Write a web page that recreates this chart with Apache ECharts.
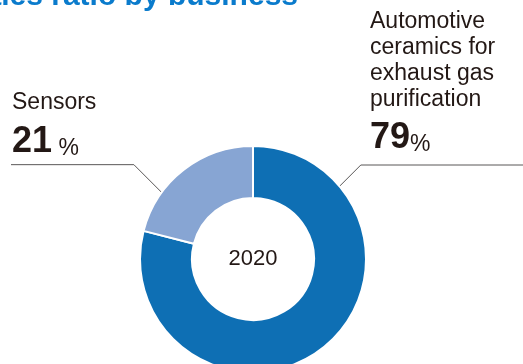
<!DOCTYPE html>
<html>
<head>
<meta charset="utf-8">
<script src="https://cdn.jsdelivr.net/npm/echarts@6/dist/echarts.min.js"></script>
<style>
html,body{margin:0;padding:0;background:#fff;}
#chart{width:523px;height:364px;}
</style>
</head>
<body>
<div id="chart"></div>
<script>
// Data
const titleText = 'Sales ratio by business';
const yearLabel = '2020';
const categories = ['Automotive\nceramics for\nexhaust gas\npurification', 'Sensors'];
const values = [79, 21];
const units = ['%', ' %'];
const colors = ['#0e6fb4', '#87a5d3'];

const chart = echarts.init(document.getElementById('chart'), null, {renderer: 'canvas'});
const FONT = '"Liberation Sans", Arial, Helvetica, sans-serif';
const W = 523;
const CX = 253, CY = 259, R_OUT = 112;

// leader line geometry (style): angle on outer edge, 45deg diagonal length, end x
const leaders = [
  {angle: 40, diag: 22, endX: W, lx: 370, ly: 8.5},
  {angle: 144, diag: 28.5, endX: 11, lx: 12, ly: 90}
];

function leaderPoints(i) {
  const L = leaders[i];
  const a = L.angle * Math.PI / 180;
  const p0 = [CX + R_OUT * Math.cos(a), CY - R_OUT * Math.sin(a)];
  const s = Math.cos(a) > 0 ? 1 : -1;
  const p1 = [p0[0] + s * L.diag, p0[1] - L.diag];
  const p2 = [L.endX, p1[1]];
  return [p0, p1, p2];
}

const option = {
  animation: false,
  backgroundColor: '#ffffff',
  title: [
    {
      text: titleText,
      right: 225,
      top: -18,
      padding: 0,
      textStyle: {fontFamily: FONT, fontSize: 30, fontWeight: 'bold', color: '#0a7bcc'}
    },
    {
      text: yearLabel,
      left: CX,
      top: CY,
      textAlign: 'center',
      textVerticalAlign: 'middle',
      padding: 0,
      textStyle: {fontFamily: FONT, fontSize: 22, fontWeight: 'normal', color: '#231815'}
    }
  ],
  series: [{
    type: 'pie',
    center: [CX, CY],
    radius: [61, 113],
    startAngle: 90,
    clockwise: true,
    avoidLabelOverlap: false,
    silent: true,
    itemStyle: {borderColor: '#ffffff', borderWidth: 2},
    data: categories.map((c, i) => ({name: c, value: values[i], itemStyle: {color: colors[i]}})),
    label: {
      show: true,
      position: 'outside',
      width: 160,
      formatter: (p) => '{name|' + p.name + '}\n{val|' + p.value + '}{pct|' + units[p.dataIndex] + '}',
      rich: {
        name: {fontFamily: FONT, fontSize: 23, lineHeight: 26, color: '#231815'},
        val: {fontFamily: FONT, fontSize: 36, fontWeight: 'bold', lineHeight: 44, verticalAlign: 'bottom', color: '#231815'},
        pct: {fontFamily: FONT, fontSize: 23, lineHeight: 34, verticalAlign: 'bottom', color: '#231815'}
      }
    },
    labelLine: {
      show: true,
      length: 20,
      length2: 20,
      lineStyle: {color: '#595757', width: 1}
    },
    labelLayout: function (params) {
      const i = params.dataIndex;
      const L = leaders[i];
      return {
        x: L.lx,
        y: L.ly,
        align: 'left',
        verticalAlign: 'top',
        labelLinePoints: leaderPoints(i)
      };
    }
  }]
};
chart.setOption(option);
</script>
</body>
</html>
